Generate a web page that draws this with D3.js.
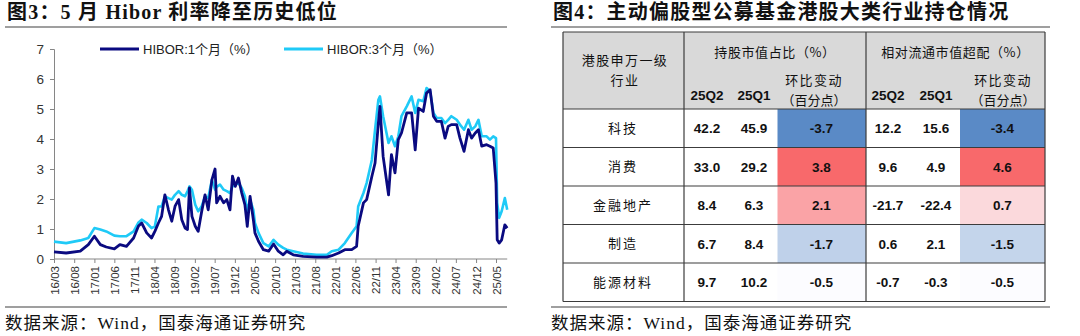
<!DOCTYPE html>
<html><head><meta charset="utf-8">
<script src="https://cdn.jsdelivr.net/npm/d3@7"></script>
<style>body{margin:0;background:#fff}svg{display:block}</style>
</head><body>
<svg id="c" width="1080" height="336"></svg>
<script>
// ---------- Left chart data ----------
const dates = ["2016-03-01","2016-06-01","2016-09-16","2016-11-16","2017-01-01","2017-02-15","2017-04-01","2017-06-01","2017-07-13","2017-09-01","2017-10-25","2017-12-01","2017-12-25","2018-02-01","2018-03-10","2018-04-04","2018-05-01","2018-05-25","2018-06-19","2018-07-16","2018-08-10","2018-09-04","2018-10-01","2018-10-25","2018-11-19","2018-12-07","2018-12-22","2019-01-10","2019-02-04","2019-02-26","2019-03-25","2019-04-19","2019-05-13","2019-06-10","2019-07-04","2019-07-16","2019-08-10","2019-09-07","2019-10-01","2019-10-25","2019-11-13","2019-12-04","2019-12-28","2020-01-22","2020-02-15","2020-03-04","2020-03-25","2020-04-19","2020-05-01","2020-05-28","2020-07-04","2020-08-13","2020-09-19","2020-10-25","2020-12-01","2020-12-28","2021-02-15","2021-05-01","2021-08-10","2021-10-28","2021-12-04","2022-01-25","2022-03-13","2022-05-04","2022-06-10","2022-06-22","2022-08-01","2022-08-25","2022-10-04","2022-10-28","2022-11-22","2022-12-04","2022-12-28","2023-02-07","2023-03-01","2023-03-28","2023-04-22","2023-05-16","2023-06-25","2023-08-01","2023-08-28","2023-09-22","2023-10-28","2023-11-22","2023-12-19","2024-01-13","2024-02-07","2024-03-13","2024-04-10","2024-05-04","2024-05-28","2024-07-07","2024-08-01","2024-09-01","2024-10-04","2024-10-28","2024-11-25","2024-12-19","2025-01-13","2025-02-19","2025-03-16","2025-04-10","2025-05-01","2025-05-10","2025-05-25","2025-06-13","2025-07-07","2025-07-25"];
const hibor1M = [0.24,0.20,0.26,0.48,0.76,0.48,0.40,0.34,0.48,0.42,0.70,1.10,1.20,0.87,0.70,0.92,1.20,1.42,2.14,1.64,1.26,1.76,1.98,1.31,1.03,0.98,2.37,1.42,1.09,0.92,1.59,2.14,1.64,2.64,3.00,1.87,2.09,1.87,1.98,1.64,2.76,2.42,2.70,2.20,1.81,1.09,2.09,1.31,0.87,0.59,0.31,0.26,0.50,0.26,0.14,0.26,0.14,0.09,0.06,0.06,0.11,0.20,0.31,0.31,0.42,1.09,1.87,1.98,2.76,3.20,4.53,5.09,3.42,2.14,3.48,2.87,3.98,4.20,4.87,4.87,3.64,5.03,4.92,5.53,5.64,4.76,4.59,4.59,4.03,4.42,4.48,4.48,4.03,3.59,4.31,4.03,4.20,4.31,3.76,3.81,3.76,3.70,2.53,0.64,0.53,0.64,1.14,1.03];
const hibor3M = [0.58,0.53,0.62,0.70,1.03,0.98,0.92,0.78,0.76,0.76,0.92,1.22,1.31,1.20,1.03,1.09,1.75,1.75,2.09,2.03,1.98,2.14,2.26,2.14,2.09,2.26,2.42,2.31,1.81,1.59,1.76,2.09,2.03,2.64,2.31,2.40,2.48,2.31,2.26,2.20,2.42,2.48,2.53,2.37,2.09,1.59,1.98,1.64,1.20,0.87,0.53,0.42,0.64,0.48,0.37,0.31,0.26,0.18,0.14,0.14,0.26,0.31,0.53,0.87,1.09,1.75,2.20,2.53,3.31,4.31,5.31,5.42,4.76,3.87,4.09,3.76,4.09,4.76,5.09,5.42,4.87,5.31,5.26,5.70,5.59,4.87,4.70,4.70,4.53,4.64,4.76,4.64,4.48,4.31,4.64,4.31,4.42,4.64,4.09,4.09,3.98,4.09,4.03,1.87,1.37,1.59,2.03,1.64];
const xTickLabels = ["16/03","16/08","17/01","17/06","17/11","18/04","18/09","19/02","19/07","19/12","20/05","20/10","21/03","21/08","22/01","22/06","22/11","23/04","23/09","24/02","24/07","24/12","25/05"];
const yTicks = [0,1,2,3,4,5,6,7];
const seriesNames = ["HIBOR:1个月（%）","HIBOR:3个月（%）"];

// ---------- Right table data ----------
const industries = ["科技","消费","金融地产","制造","能源材料"];
const share25Q2 = [42.2,33.0,8.4,6.7,9.7];
const share25Q1 = [45.9,29.2,6.3,8.4,10.2];
const shareChg = [-3.7,3.8,2.1,-1.7,-0.5];
const over25Q2 = [12.2,9.6,-21.7,0.6,-0.7];
const over25Q1 = [15.6,4.9,-22.4,2.1,-0.3];
const overChg = [-3.4,4.6,0.7,-1.5,-0.5];

const svg = d3.select("#c");
const CJK = "'Noto Sans CJK SC'";
const TITLE_FONT = "'Liberation Serif'," + CJK;
const SANS = "'Liberation Sans',Arial," + CJK;

// ---------- Titles / rules / sources ----------
function panelFrame(x0, x1, title) {
  svg.append("text").attr("x", x0 + 2).attr("y", 19)
    .attr("font-family", TITLE_FONT).attr("font-weight", 700)
    .attr("font-size", 20).attr("letter-spacing", 1.2).attr("fill", "#111").text(title);
  svg.append("line").attr("x1", x0).attr("x2", x1).attr("y1", 27).attr("y2", 27)
    .attr("stroke", "#7f7f7f").attr("stroke-width", 1.5);
  svg.append("line").attr("x1", x0).attr("x2", x1).attr("y1", 307).attr("y2", 307)
    .attr("stroke", "#7f7f7f").attr("stroke-width", 1.5);
  svg.append("text").attr("x", x0).attr("y", 329)
    .attr("font-family", TITLE_FONT).attr("font-size", 17.5).attr("letter-spacing", 1)
    .attr("fill", "#111").text("数据来源：Wind，国泰海通证券研究");
}
panelFrame(5, 507, "图3：5 月 Hibor 利率降至历史低位");
panelFrame(551, 1050, "图4：主动偏股型公募基金港股大类行业持仓情况");

// ---------- Line chart ----------
const parse = d3.timeParse("%Y-%m-%d");
const tparse = d3.timeParse("%y/%m");
const D = dates.map(parse);
const x = d3.scaleTime().domain([parse("2016-03-01"), parse("2025-05-01")]).range([54, 496]);
const y = d3.scaleLinear().domain([0, 7]).range([259, 49]);

const gx = svg.append("g").attr("transform", "translate(0,259)")
  .call(d3.axisBottom(x).tickValues(xTickLabels.map(tparse)).tickSize(4)
    .tickFormat((d, i) => xTickLabels[i]));
gx.select(".domain").remove();
gx.append("line").attr("x1", x(D[0])).attr("x2", x(D[D.length - 1]))
  .attr("stroke", "#868686");
gx.selectAll(".tick line").attr("stroke", "#868686");
gx.selectAll("text").attr("transform", "rotate(-90)").attr("text-anchor", "end")
  .attr("x", -7).attr("y", 0).attr("dy", "0.35em")
  .attr("font-family", SANS).attr("font-size", 11.5).attr("fill", "#333");

const gy = svg.append("g").attr("transform", "translate(54,0)")
  .call(d3.axisLeft(y).tickValues(yTicks).tickSize(4).tickPadding(6).tickFormat(d3.format("d")));
gy.select(".domain").attr("stroke", "#868686");
gy.selectAll(".tick line").attr("stroke", "#868686");
gy.selectAll("text").attr("font-family", SANS).attr("font-size", 13.5).attr("fill", "#333");

const colors = ["#0a0a80", "#1fcaf7"];
const line = d3.line().x((d, i) => x(D[i])).y(d => y(d));
svg.append("path").datum(hibor3M).attr("d", line).attr("fill", "none")
  .attr("stroke", colors[1]).attr("stroke-width", 2.6).attr("stroke-linejoin", "round");
svg.append("path").datum(hibor1M).attr("d", line).attr("fill", "none")
  .attr("stroke", colors[0]).attr("stroke-width", 2.8).attr("stroke-linejoin", "round");

// legend
const legX = [100, 284];
seriesNames.forEach((name, i) => {
  svg.append("line").attr("x1", legX[i]).attr("x2", legX[i] + 39).attr("y1", 49).attr("y2", 49)
    .attr("stroke", colors[i]).attr("stroke-width", 3);
  svg.append("text").attr("x", legX[i] + 43).attr("y", 49).attr("dy", "0.35em")
    .attr("font-family", SANS).attr("font-size", 13).attr("fill", "#222").text(name);
});

// ---------- Table ----------
const T = {x0: 563, x1: 1045, y0: 32, hy: 109, y1: 301.5};
const rowY = d3.scaleBand().domain(industries).range([T.hy, T.y1]);
const border = "#3c3c3c";

svg.append("rect").attr("x", T.x0).attr("y", T.y0).attr("width", T.x1 - T.x0)
  .attr("height", T.hy - T.y0).attr("fill", "#d9d9d9");

function colorScale(vals) {
  const s = vals.slice().sort(d3.ascending);
  return d3.scaleLinear().domain([s[0], d3.median(s), s[s.length - 1]])
    .range(["#5A8AC6", "#FCFCFF", "#F8696B"]).interpolate(d3.interpolateRgb);
}
const cShare = colorScale(shareChg), cOver = colorScale(overChg);
const chgCells = [{x: 777.5, w: 88.5, vals: shareChg, c: cShare}, {x: 960, w: 85, vals: overChg, c: cOver}];
chgCells.forEach(cc => {
  svg.append("g").selectAll("rect").data(industries).join("rect")
    .attr("x", cc.x).attr("y", d => rowY(d)).attr("width", cc.w).attr("height", rowY.bandwidth())
    .attr("fill", (d, i) => cc.c(cc.vals[i]));
});

// grid lines
[T.y0, T.hy, ...industries.slice(1).map(d => rowY(d)), T.y1].forEach(yy => {
  svg.append("line").attr("x1", T.x0).attr("x2", T.x1).attr("y1", yy).attr("y2", yy)
    .attr("stroke", border).attr("stroke-width", 1.2);
});
[T.x0, 684, 866, T.x1].forEach(xx => {
  svg.append("line").attr("x1", xx).attr("x2", xx).attr("y1", T.y0).attr("y2", T.y1)
    .attr("stroke", border).attr("stroke-width", 1.2);
});

function txt(xx, yy, s, opt = {}) {
  return svg.append("text").attr("x", xx).attr("y", yy).attr("dy", "0.36em")
    .attr("text-anchor", "middle")
    .attr("font-family", opt.family || CJK)
    .attr("font-weight", opt.weight || 400)
    .attr("font-size", opt.size || 13)
    .attr("letter-spacing", opt.ls == null ? 1.4 : opt.ls)
    .attr("fill", "#111").text(s);
}
// header
txt(625, 60, "港股申万一级");
txt(625, 80, "行业");
txt(775, 52, "持股市值占比（%）", {ls: 0.6});
txt(955.5, 52, "相对流通市值超配（%）", {ls: 0.6});
const colX = [707, 754, 821.5, 888, 936, 1002.5];
const B = {family: SANS, weight: 700, size: 13.5, ls: 0};
txt(colX[0], 95, "25Q2", B); txt(colX[1], 95, "25Q1", B);
txt(colX[3], 95, "25Q2", B); txt(colX[4], 95, "25Q1", B);
txt(814, 80, "环比变动"); txt(814, 100, "（百分点）", {ls: 0});
txt(1003, 80, "环比变动"); txt(1003, 100, "（百分点）", {ls: 0});

// body
const cols = [share25Q2, share25Q1, shareChg, over25Q2, over25Q1, overChg];
industries.forEach((name, r) => {
  const cy = rowY(name) + rowY.bandwidth() / 2;
  txt(623, cy, name, {ls: 2});
  cols.forEach((arr, c) => txt(colX[c], cy, arr[r].toFixed(1), B));
});
</script>
</body></html>
